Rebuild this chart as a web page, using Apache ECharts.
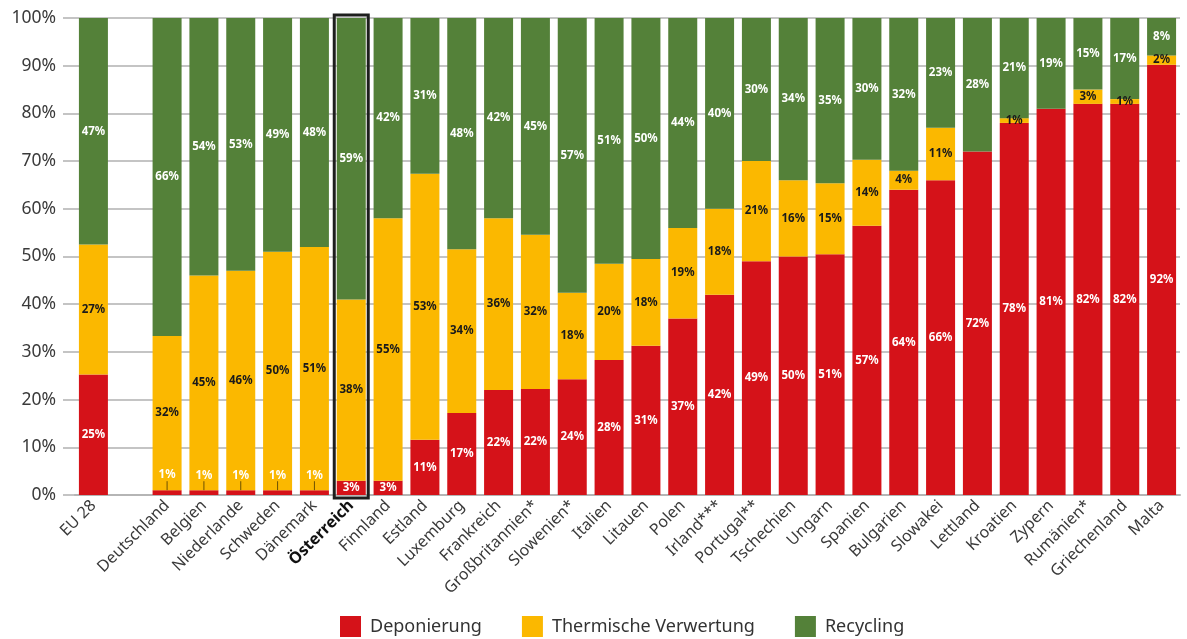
<!DOCTYPE html>
<html>
<head>
<meta charset="utf-8">
<script src="https://cdn.jsdelivr.net/npm/echarts@6/dist/echarts.min.js"></script>
<style>html,body{margin:0;padding:0;background:#fff}#c{width:1187px;height:639px}</style>
</head>
<body>
<div id="c"></div>
<script>
const categories = ['EU 28','','Deutschland','Belgien','Niederlande','Schweden','Dänemark','Österreich','Finnland','Estland','Luxemburg','Frankreich','Großbritannien*','Slowenien*','Italien','Litauen','Polen','Irland***','Portugal**','Tschechien','Ungarn','Spanien','Bulgarien','Slowakei','Lettland','Kroatien','Zypern','Rumänien*','Griechenland','Malta'];
const deponierung = [25,null,1,1,1,1,1,3,3,11,17,22,22,24,28,31,37,42,49,50,51,57,64,66,72,78,81,82,82,92];
const thermisch   = [27,null,32,45,46,50,51,38,55,53,34,36,32,18,20,18,19,18,21,16,15,14,4,11,0,1,0,3,1,2];
const recycling   = [47,null,66,54,53,49,48,59,42,31,48,42,45,57,51,50,44,40,30,34,35,30,32,23,28,21,19,15,17,8];
const highlighted = ['Österreich'];
const yTicks = [0,10,20,30,40,50,60,70,80,90,100];

const raw = [deponierung, thermisch, recycling];
const totals = categories.map((c,i)=> deponierung[i]==null ? null : deponierung[i]+thermisch[i]+recycling[i]);
const share = arr => arr.map((v,i)=> v==null ? null : v/totals[i]*100);

const names = ['Deponierung','Thermische Verwertung','Recycling'];
const colors = ['#d51219','#fbb800','#548139'];
const labelColors = ['#ffffff','#1a1a1a','#ffffff'];
const font = 'Noto Sans';

const series = raw.map((arr,si)=>({
  name: names[si],
  type: 'bar',
  stack: 'total',
  xAxisIndex: 1, yAxisIndex: 1,
  barWidth: 29,
  itemStyle: {color: colors[si]},
  data: share(arr).map((v,i)=>{
    const item = {value: v};
    if (si===0 && arr[i]===1) {
      item.label = {position:'top', distance: 9};
    }
    return item;
  }),
  label: {
    show: true,
    position: 'inside',
    color: labelColors[si],
    fontFamily: font,
    fontWeight: 'bold',
    fontSize: 11.5,
    formatter: p => {
      const r = arr[p.dataIndex];
      return (r==null || r===0) ? '' : r + '%';
    }
  }
}));

series.push({
  type: 'custom',
  name: 'hl',
  xAxisIndex: 1, yAxisIndex: 1,
  z: 10,
  silent: true,
  data: highlighted.map(c=>[c,100]),
  renderItem: (params, api) => {
    const bottom = api.coord([api.value(0), 0]);
    const top = api.coord([api.value(0), api.value(1)]);
    const w = 34;
    return {
      type: 'rect',
      shape: {x: bottom[0]-w/2, y: top[1]-3, width: w, height: bottom[1]-top[1]+6},
      style: {fill: 'none', stroke: '#1e1e1e', lineWidth: 3}
    };
  }
});

series.push({
  type: 'custom',
  name: 'leader',
  xAxisIndex: 1, yAxisIndex: 1,
  z: 9,
  silent: true,
  data: categories.map((c,i)=> deponierung[i]===1 ? [c, share(deponierung)[i]] : null).filter(Boolean),
  renderItem: (params, api) => {
    const p = api.coord([api.value(0), api.value(1)]);
    return {type:'line', shape:{x1:p[0], y1:p[1], x2:p[0], y2:p[1]-9}, style:{stroke:'#6b5000', lineWidth:1}};
  }
});

const chart = echarts.init(document.getElementById('c'));
chart.setOption({
  animation: false,
  textStyle: {fontFamily: font},
  grid: [
    {left: 63, right: 7, top: 18, bottom: 144},
    {left: 75, right: 7, top: 18, bottom: 144}
  ],
  legend: {
    data: names,
    left: 335, top: 611,
    itemWidth: 21, itemHeight: 21, itemGap: 40,
    icon: 'rect',
    textStyle: {fontSize: 18, color: '#333', fontFamily: font, padding: [0,0,0,4]}
  },
  xAxis: [
    {type: 'category', gridIndex: 0, data: [''], show: false},
    {
      type: 'category', gridIndex: 1,
      data: categories,
      axisTick: {show: false},
      axisLine: {lineStyle: {color: '#b5b5b5', width: 2}},
      axisLabel: {
        interval: 0, rotate: 45, fontSize: 16, color: '#3a3a3a', margin: 8, fontFamily: font,
        formatter: v => highlighted.includes(v) ? '{b|' + v + '}' : v,
        rich: {b: {fontWeight: 'bold', fontSize: 16, color: '#111', fontFamily: font}}
      }
    }
  ],
  yAxis: [
    {
      type: 'value', gridIndex: 0, min: yTicks[0], max: yTicks[yTicks.length-1], interval: 10,
      axisLine: {show: false}, axisTick: {show: false},
      splitLine: {lineStyle: {color: '#c4c4c4', width: 2}},
      axisLabel: {formatter: '{value}%', fontSize: 17.5, color: '#3a3a3a', margin: 7, fontFamily: font}
    },
    {
      type: 'value', gridIndex: 1, min: yTicks[0], max: yTicks[yTicks.length-1], interval: 10,
      show: false, splitLine: {show: false}
    }
  ],
  series: series
});
</script>
</body>
</html>
